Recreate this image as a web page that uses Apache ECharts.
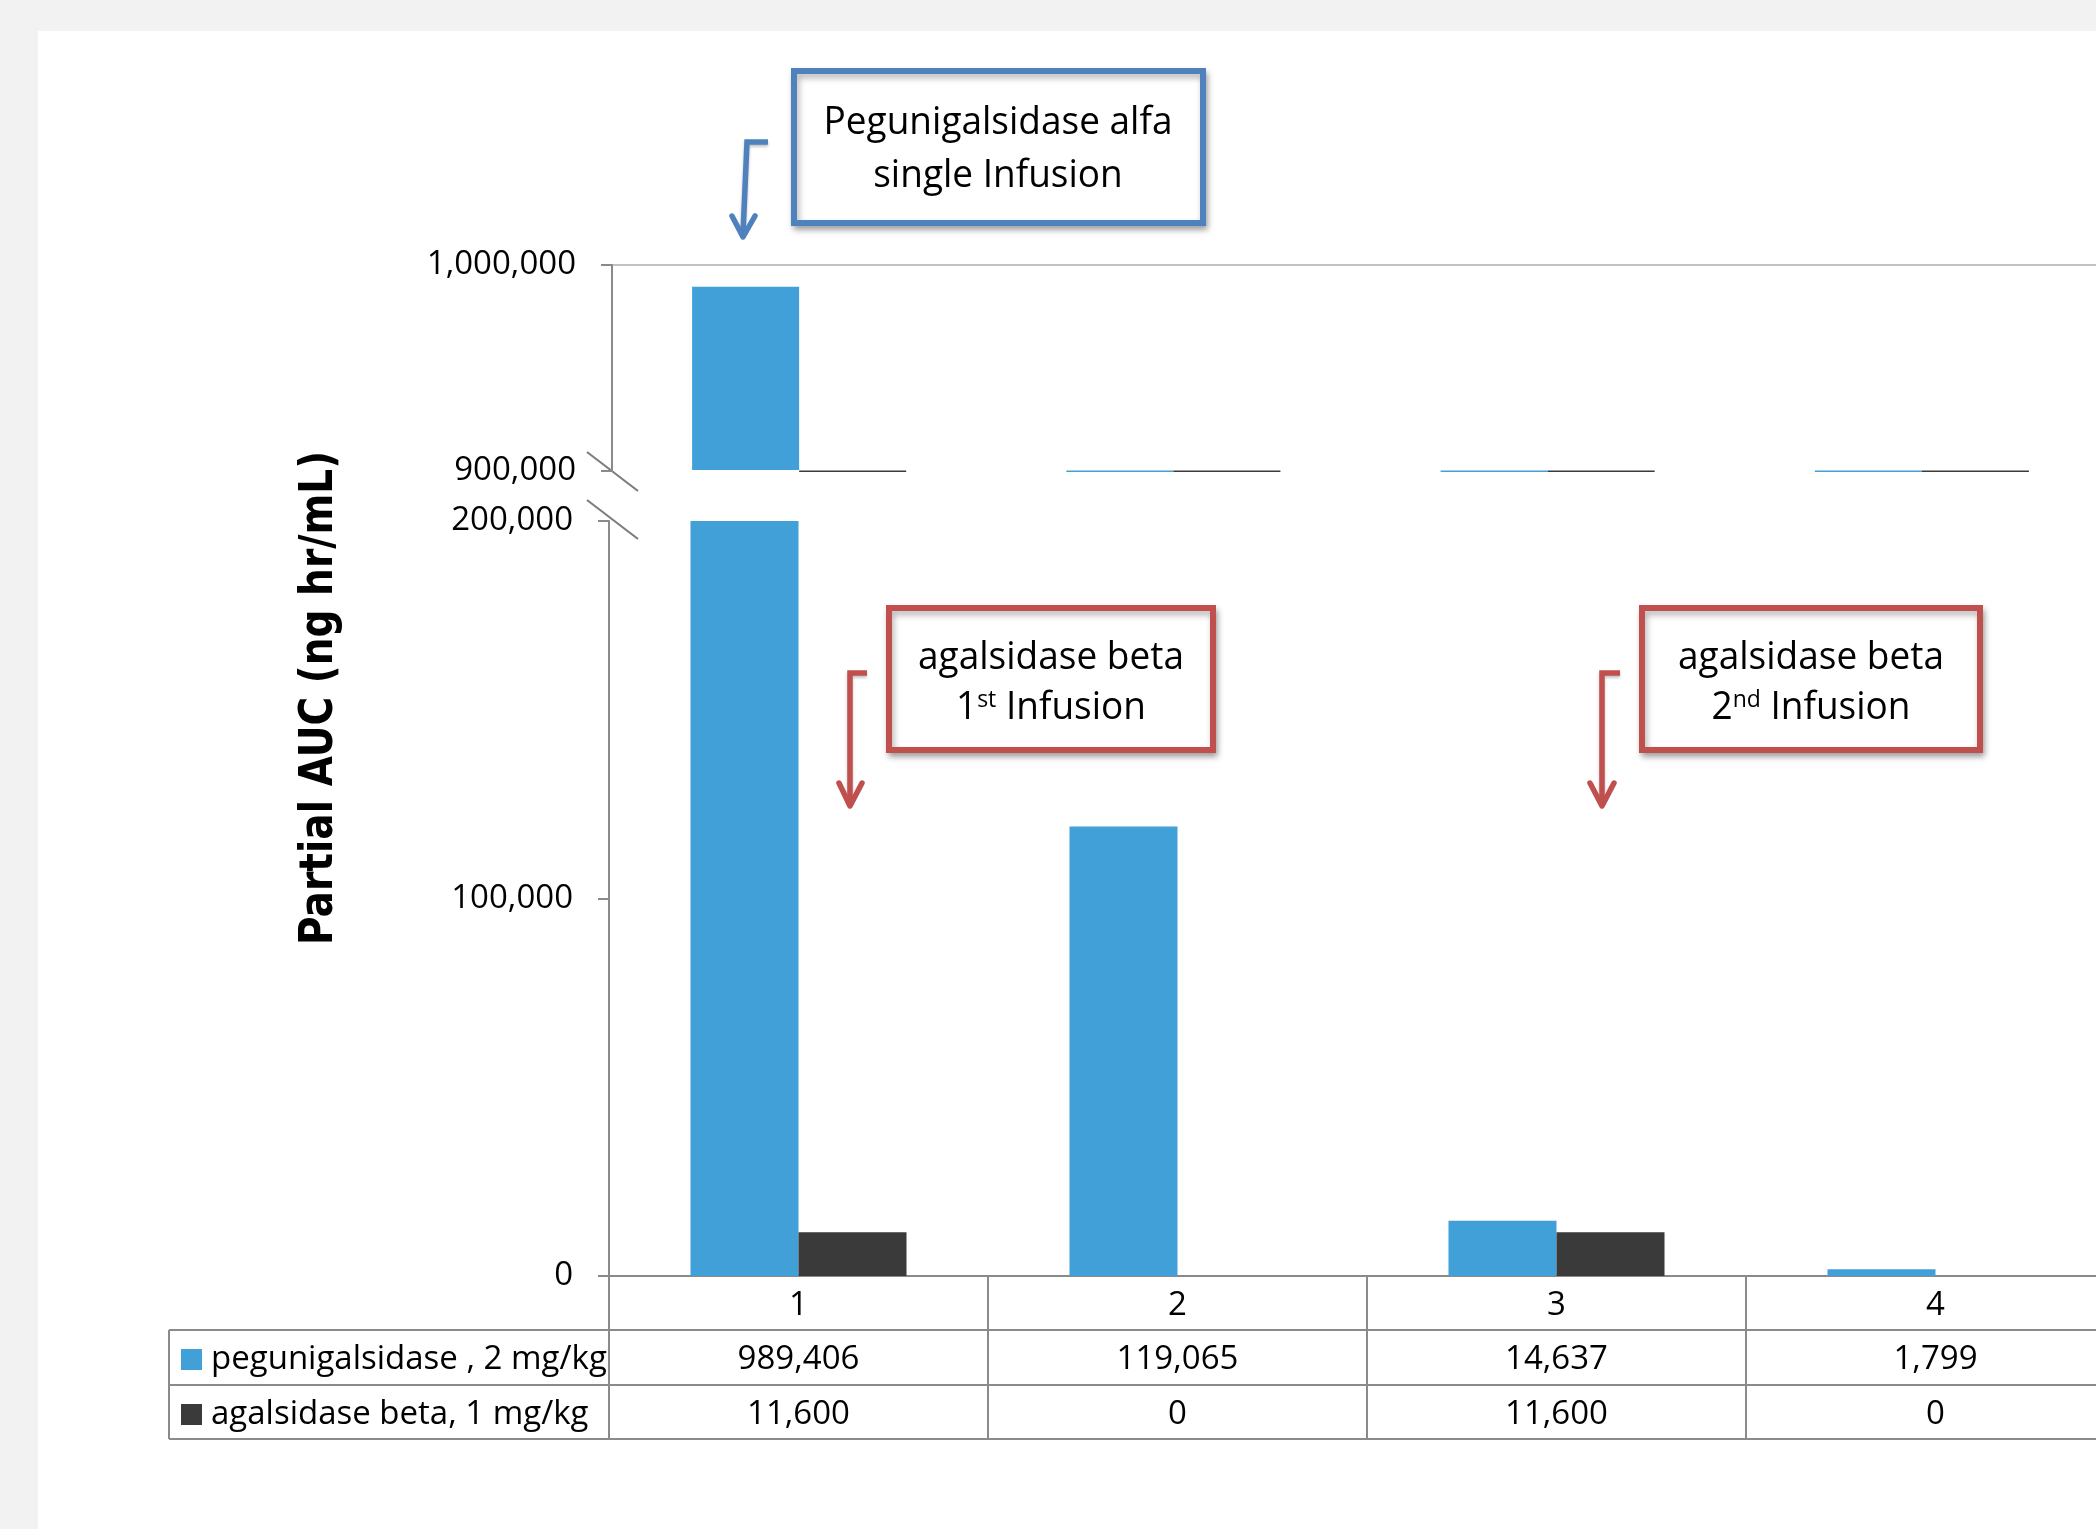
<!DOCTYPE html>
<html>
<head>
<meta charset="utf-8">
<title>Partial AUC</title>
<script src="https://cdn.jsdelivr.net/npm/echarts@6/dist/echarts.min.js"></script>
<style>
  html, body { margin: 0; padding: 0; background: #fff; }
  #chart { width: 2096px; height: 1529px; }
</style>
</head>
<body>
<div id="chart"></div>
<script>
// data
const categories = ['1', '2', '3', '4'];
const pegValues = [989406, 119065, 14637, 1799];
const agaValues = [11600, 0, 11600, 0];
const seriesNames = ['pegunigalsidase , 2 mg/kg', 'agalsidase beta, 1 mg/kg'];
const upperTicks = [900000, 1000000];
const lowerTicks = [0, 100000, 200000];
const yTitle = 'Partial AUC (ng hr/mL)';

const W = 2096, H = 1529;
const blue = '#41a0d8', dark = '#3a3a3a';
const grey = '#8a8a8a';
const FONT = '"Open Sans", "Noto Sans", sans-serif';
const fmt = v => v.toLocaleString('en-US');

const upperMin = upperTicks[0], upperMax = upperTicks[upperTicks.length - 1];
const lowerMin = lowerTicks[0], lowerMax = lowerTicks[lowerTicks.length - 1];

// layout
const upperGrid = { left: 612, top: 265, width: 1497, height: 206 };
const lowerGrid = { left: 609, top: 521, width: 1516, height: 755 };
const axisY = lowerGrid.top + lowerGrid.height;   // 1276
const tableLines = [1330, 1385, 1439];
const tableLeft = 169;

let chart = echarts.init(document.getElementById('chart'));

// upper (broken) section: bars clamped to the visible range, lines when below it
const barFrac = 0.286;
function upperBar(color, side) {
    return function (params, api) {
        const idx = api.value(0);
        const v = api.value(1);
        const base = api.coord([idx, upperMin]);
        const w = api.size([1, 0])[0] * barFrac;
        const x0 = base[0] + (side === 0 ? -w : 0);
        if (v <= upperMin) {
            return { type: 'rect', shape: { x: x0, y: base[1] - 0.5, width: w, height: 1.5 }, style: { fill: color } };
        }
        const top = api.coord([idx, Math.min(v, upperMax)]);
        return { type: 'rect', shape: { x: x0, y: top[1], width: w, height: base[1] - top[1] - 1 }, style: { fill: color } };
    };
}

const valueAxisBase = {
    type: 'value',
    interval: 100000,
    axisLine: { show: true, lineStyle: { color: grey, width: 2 } },
    axisTick: { show: true, length: 11, lineStyle: { color: grey, width: 2 } },
    axisLabel: { margin: 36, color: '#000', fontFamily: FONT, fontSize: 33, formatter: fmt, padding: [6, 0, 0, 0] }
};

const tableAxis = (offset, values) => ({
    type: 'category', gridIndex: 1, data: categories, position: 'bottom', offset: offset,
    axisLine: { show: false }, axisTick: { show: false },
    axisLabel: {
        interval: 0, margin: 13, color: '#000', fontFamily: FONT, fontSize: 33, lineHeight: 33,
        formatter: (val, i) => fmt(values[i])
    }
});

// y axis title, squeezed to match the original
const ctx = document.createElement('canvas').getContext('2d');
ctx.font = 'bold 39px "DejaVu Sans"';
const titleW = ctx.measureText(yTitle).width;

const boxText = (x, y, text, rich) => ({
    type: 'text', x: x, y: y, scaleY: 1.05,
    style: {
        x: 0, y: 0, text: text, fill: '#000', font: '37px ' + FONT,
        align: 'center', verticalAlign: 'middle', rich: rich
    }
});
const supRich = {
    n: { fontFamily: FONT, fontSize: 37, lineHeight: 42, verticalAlign: 'middle' },
    s: { fontFamily: FONT, fontSize: 23, lineHeight: 42, verticalAlign: 'top', padding: [2, 0, 0, 0] }
};
const box = (shape, color) => ({
    type: 'rect', shape: shape,
    style: { fill: '#fff', stroke: color, lineWidth: 6, shadowBlur: 6, shadowOffsetX: 2, shadowOffsetY: 4, shadowColor: 'rgba(0,0,0,0.3)' }
});
const arrow = (pts, head, color) => ([
    { type: 'polyline', shape: { points: pts }, style: { stroke: color, lineWidth: 5.5, fill: null, lineJoin: 'miter', shadowBlur: 3, shadowOffsetY: 2, shadowColor: 'rgba(0,0,0,0.25)' } },
    { type: 'polyline', shape: { points: head }, style: { stroke: color, lineWidth: 5.5, fill: null, lineCap: 'round', lineJoin: 'round' } }
]);
const hline = (y, x1, x2) => ({ type: 'line', shape: { x1: x1, y1: y, x2: x2, y2: y }, style: { stroke: grey, lineWidth: 2 } });

const graphics = [
    { type: 'rect', shape: { x: 0, y: 0, width: W, height: 31 }, style: { fill: '#f2f2f2' } },
    { type: 'rect', shape: { x: 0, y: 0, width: 38, height: H }, style: { fill: '#f2f2f2' } },
    hline(tableLines[0], tableLeft, W),
    hline(tableLines[1], tableLeft, W),
    hline(tableLines[2], tableLeft, W),
    { type: 'line', shape: { x1: tableLeft, y1: tableLines[0], x2: tableLeft, y2: tableLines[2] }, style: { stroke: grey, lineWidth: 2 } },
    // axis break marks
    { type: 'line', shape: { x1: 587, y1: 452, x2: 638, y2: 491 }, style: { stroke: '#7a7a7a', lineWidth: 2 } },
    { type: 'line', shape: { x1: 587, y1: 500, x2: 638, y2: 539 }, style: { stroke: '#7a7a7a', lineWidth: 2 } },
    {
        type: 'text', x: 320, y: 698, rotation: Math.PI / 2, scaleX: 494 / titleW, scaleY: 1.17,
        style: { x: 0, y: 0, text: yTitle, fill: '#000', font: 'bold 39px "DejaVu Sans"', align: 'center', verticalAlign: 'middle' }
    },
    box({ x: 794, y: 71, width: 409, height: 152 }, '#4f81bd'),
    boxText(998, 123, 'Pegunigalsidase alfa'),
    boxText(998, 176, 'single Infusion'),
    box({ x: 889, y: 608, width: 324, height: 142 }, '#c0504d'),
    boxText(1051, 658, 'agalsidase beta'),
    boxText(1051, 708, '{n|1}{s|st}{n| Infusion}', supRich),
    box({ x: 1642, y: 608, width: 338, height: 142 }, '#c0504d'),
    boxText(1811, 658, 'agalsidase beta'),
    boxText(1811, 708, '{n|2}{s|nd}{n| Infusion}', supRich)
].concat(
    arrow([[768, 142], [747, 142], [743, 234]], [[732, 216], [743, 237], [755, 216]], '#4f81bd'),
    arrow([[867, 673], [850, 673], [850, 803]], [[839, 783], [850, 806], [862, 783]], '#c0504d'),
    arrow([[1620, 673], [1602, 673], [1602, 803]], [[1590, 783], [1602, 806], [1614, 783]], '#c0504d')
);

chart.setOption({
    backgroundColor: '#fff',
    animation: false,
    grid: [
        { left: upperGrid.left, top: upperGrid.top, width: upperGrid.width, height: upperGrid.height, outerBoundsMode: 'none' },
        { left: lowerGrid.left, top: lowerGrid.top, width: lowerGrid.width, height: lowerGrid.height, outerBoundsMode: 'none' }
    ],
    legend: {
        orient: 'vertical', left: 181, top: 1343, padding: 0,
        itemWidth: 21, itemHeight: 21, itemGap: 22, icon: 'rect',
        textStyle: { color: '#000', fontFamily: FONT, fontSize: 33, lineHeight: 33, padding: [0, 0, 0, 4] },
        data: [
            { name: seriesNames[0], itemStyle: { color: blue } },
            { name: seriesNames[1], itemStyle: { color: dark } }
        ]
    },
    xAxis: [
        { type: 'category', gridIndex: 0, data: categories, show: false },
        {
            type: 'category', gridIndex: 1, data: categories,
            axisLine: { show: true, lineStyle: { color: grey, width: 2 } },
            axisTick: { show: true, interval: 0, length: tableLines[2] - axisY, lineStyle: { color: grey, width: 2 } },
            axisLabel: { interval: 0, margin: 13, color: '#000', fontFamily: FONT, fontSize: 33, lineHeight: 33 }
        },
        tableAxis(54, pegValues),
        tableAxis(109, agaValues)
    ],
    yAxis: [
        Object.assign({}, valueAxisBase, {
            gridIndex: 0, min: upperMin, max: upperMax,
            splitLine: { show: true, showMinLine: false, lineStyle: { color: '#c3c3c3', width: 2 } }
        }),
        Object.assign({}, valueAxisBase, {
            gridIndex: 1, min: lowerMin, max: lowerMax,
            splitLine: { show: false }
        })
    ],
    series: [
        {
            name: seriesNames[0], type: 'custom', xAxisIndex: 0, yAxisIndex: 0,
            data: pegValues.map((v, i) => [i, v]), encode: { x: 0, y: 1 },
            itemStyle: { color: blue }, renderItem: upperBar(blue, 0), silent: true
        },
        {
            name: seriesNames[1], type: 'custom', xAxisIndex: 0, yAxisIndex: 0,
            data: agaValues.map((v, i) => [i, v]), encode: { x: 0, y: 1 },
            itemStyle: { color: dark }, renderItem: upperBar(dark, 1), silent: true
        },
        {
            name: seriesNames[0], type: 'bar', xAxisIndex: 1, yAxisIndex: 1,
            data: pegValues, barGap: '0%', barCategoryGap: '43%',
            itemStyle: { color: blue }
        },
        {
            name: seriesNames[1], type: 'bar', xAxisIndex: 1, yAxisIndex: 1,
            data: agaValues, barGap: '0%', barCategoryGap: '43%',
            itemStyle: { color: dark }
        }
    ],
    graphic: graphics
});

window.addEventListener('resize', () => chart.resize());
</script>
</body>
</html>
